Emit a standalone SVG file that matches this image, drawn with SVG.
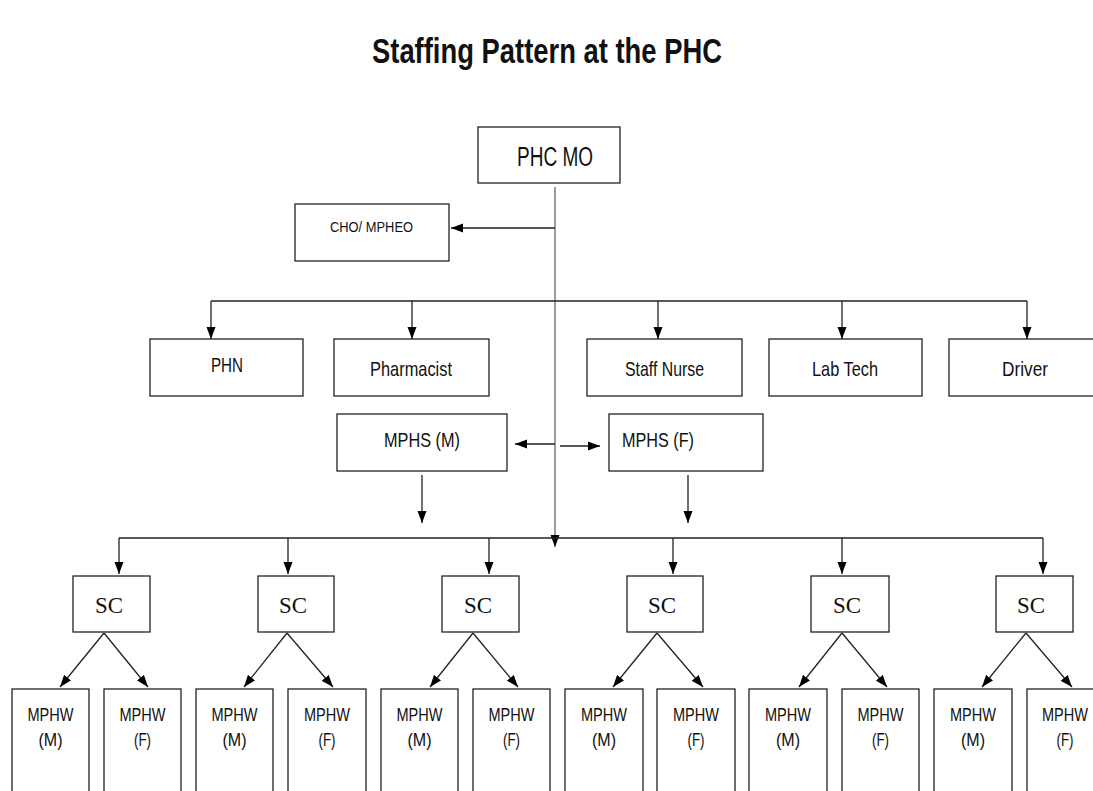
<svg xmlns="http://www.w3.org/2000/svg" width="1093" height="791" viewBox="0 0 1093 791">
<style>
.box{fill:#fff;stroke:#222;stroke-width:1.3}
.ln{fill:none;stroke:#222;stroke-width:1.3}
.vl{fill:none;stroke:#666;stroke-width:1.3}
.t{font-family:"Liberation Sans",Arial,sans-serif;fill:#111}
.sc{font-family:"Liberation Serif","Times New Roman",serif;font-size:24px;fill:#111;text-anchor:middle}
.r1{font-size:21px}
.mw{font-size:19px}
</style>
<defs>
<marker id="ah" markerUnits="userSpaceOnUse" markerWidth="12" markerHeight="10" refX="12" refY="5" orient="auto">
<path d="M0,0.5 L12,5 L0,9.5 Z" fill="#000"/>
</marker>
</defs>
<rect width="1093" height="791" fill="#fff"/>
<text class="t" x="372" y="63" font-size="35" font-weight="bold" textLength="350" lengthAdjust="spacingAndGlyphs">Staffing Pattern at the PHC</text>

<g id="connectors">
<path class="vl" d="M555,187 V547" marker-end="url(#ah)"/>
<path class="ln" d="M555,228 H451" marker-end="url(#ah)"/>
<path class="ln" d="M211,301 H1027"/>
<path class="ln" d="M211,301 V339" marker-end="url(#ah)"/>
<path class="ln" d="M412,301 V339" marker-end="url(#ah)"/>
<path class="ln" d="M658,301 V339" marker-end="url(#ah)"/>
<path class="ln" d="M842,301 V339" marker-end="url(#ah)"/>
<path class="ln" d="M1027,301 V339" marker-end="url(#ah)"/>
<path class="ln" d="M555,444 H515" marker-end="url(#ah)"/>
<path class="ln" d="M560,446 H600" marker-end="url(#ah)"/>
<path class="ln" d="M422,475 V523" marker-end="url(#ah)"/>
<path class="ln" d="M688,475 V523" marker-end="url(#ah)"/>
<path class="ln" d="M119,538 H1043"/>
<path class="ln" d="M119,538 V574" marker-end="url(#ah)"/>
<path class="ln" d="M288,538 V574" marker-end="url(#ah)"/>
<path class="ln" d="M489,538 V574" marker-end="url(#ah)"/>
<path class="ln" d="M673,538 V574" marker-end="url(#ah)"/>
<path class="ln" d="M842,538 V574" marker-end="url(#ah)"/>
<path class="ln" d="M1043,538 V574" marker-end="url(#ah)"/>
<path class="ln" d="M104,633 L60,687" marker-end="url(#ah)"/>
<path class="ln" d="M104,633 L148,687" marker-end="url(#ah)"/>
<path class="ln" d="M287,633 L244,687" marker-end="url(#ah)"/>
<path class="ln" d="M287,633 L333,687" marker-end="url(#ah)"/>
<path class="ln" d="M473,633 L430,687" marker-end="url(#ah)"/>
<path class="ln" d="M473,633 L518,687" marker-end="url(#ah)"/>
<path class="ln" d="M657,633 L613,687" marker-end="url(#ah)"/>
<path class="ln" d="M657,633 L703,687" marker-end="url(#ah)"/>
<path class="ln" d="M842,633 L799,687" marker-end="url(#ah)"/>
<path class="ln" d="M842,633 L887,687" marker-end="url(#ah)"/>
<path class="ln" d="M1026,633 L982,687" marker-end="url(#ah)"/>
<path class="ln" d="M1026,633 L1072,687" marker-end="url(#ah)"/>
</g>

<g id="phc-mo"><rect class="box" x="478" y="127" width="142" height="56"/><text class="t" x="517" y="166" font-size="27" textLength="76" lengthAdjust="spacingAndGlyphs">PHC MO</text></g>
<g id="cho"><rect class="box" x="295" y="204" width="154" height="57"/><text class="t" x="330" y="232" font-size="15" textLength="83" lengthAdjust="spacingAndGlyphs">CHO/ MPHEO</text></g>

<g id="phn"><rect class="box" x="150" y="339" width="153" height="57"/><text class="t r1" x="211" y="372" textLength="32" lengthAdjust="spacingAndGlyphs">PHN</text></g>
<g id="pharmacist"><rect class="box" x="334" y="339" width="155" height="57"/><text class="t r1" x="370" y="376" textLength="82" lengthAdjust="spacingAndGlyphs">Pharmacist</text></g>
<g id="staff-nurse"><rect class="box" x="587" y="339" width="155" height="57"/><text class="t r1" x="625" y="376" textLength="79" lengthAdjust="spacingAndGlyphs">Staff Nurse</text></g>
<g id="lab-tech"><rect class="box" x="769" y="339" width="153" height="57"/><text class="t r1" x="812" y="376" textLength="66" lengthAdjust="spacingAndGlyphs">Lab Tech</text></g>
<g id="driver"><rect class="box" x="949" y="339" width="160" height="57"/><text class="t r1" x="1002" y="376" textLength="46" lengthAdjust="spacingAndGlyphs">Driver</text></g>

<g id="mphs-m"><rect class="box" x="337" y="414" width="170" height="57"/><text class="t r1" x="384" y="447" textLength="76" lengthAdjust="spacingAndGlyphs">MPHS (M)</text></g>
<g id="mphs-f"><rect class="box" x="609" y="414" width="154" height="57"/><text class="t r1" x="622" y="447" textLength="72" lengthAdjust="spacingAndGlyphs">MPHS (F)</text></g>

<g id="sc1"><rect class="box" x="73" y="576" width="77" height="56"/><text class="sc" x="109" y="613" textLength="28" lengthAdjust="spacingAndGlyphs">SC</text></g>
<g id="sc2"><rect class="box" x="258" y="576" width="76" height="56"/><text class="sc" x="293" y="613" textLength="28" lengthAdjust="spacingAndGlyphs">SC</text></g>
<g id="sc3"><rect class="box" x="442" y="576" width="77" height="56"/><text class="sc" x="478" y="613" textLength="28" lengthAdjust="spacingAndGlyphs">SC</text></g>
<g id="sc4"><rect class="box" x="627" y="576" width="76" height="56"/><text class="sc" x="662" y="613" textLength="28" lengthAdjust="spacingAndGlyphs">SC</text></g>
<g id="sc5"><rect class="box" x="811" y="576" width="78" height="56"/><text class="sc" x="847" y="613" textLength="28" lengthAdjust="spacingAndGlyphs">SC</text></g>
<g id="sc6"><rect class="box" x="996" y="576" width="77" height="56"/><text class="sc" x="1031" y="613" textLength="28" lengthAdjust="spacingAndGlyphs">SC</text></g>

<g id="mphw-1m"><rect class="box" x="12" y="689" width="77" height="115"/><text class="t mw" x="50.5" y="721" text-anchor="middle" textLength="46" lengthAdjust="spacingAndGlyphs">MPHW</text><text class="t mw" x="50.5" y="746" text-anchor="middle" textLength="24" lengthAdjust="spacingAndGlyphs">(M)</text></g>
<g id="mphw-1f"><rect class="box" x="104" y="689" width="77" height="115"/><text class="t mw" x="142.5" y="721" text-anchor="middle" textLength="46" lengthAdjust="spacingAndGlyphs">MPHW</text><text class="t mw" x="142.5" y="746" text-anchor="middle" textLength="17" lengthAdjust="spacingAndGlyphs">(F)</text></g>
<g id="mphw-2m"><rect class="box" x="196" y="689" width="77" height="115"/><text class="t mw" x="234.5" y="721" text-anchor="middle" textLength="46" lengthAdjust="spacingAndGlyphs">MPHW</text><text class="t mw" x="234.5" y="746" text-anchor="middle" textLength="24" lengthAdjust="spacingAndGlyphs">(M)</text></g>
<g id="mphw-2f"><rect class="box" x="288" y="689" width="78" height="115"/><text class="t mw" x="327" y="721" text-anchor="middle" textLength="46" lengthAdjust="spacingAndGlyphs">MPHW</text><text class="t mw" x="327" y="746" text-anchor="middle" textLength="17" lengthAdjust="spacingAndGlyphs">(F)</text></g>
<g id="mphw-3m"><rect class="box" x="381" y="689" width="77" height="115"/><text class="t mw" x="419.5" y="721" text-anchor="middle" textLength="46" lengthAdjust="spacingAndGlyphs">MPHW</text><text class="t mw" x="419.5" y="746" text-anchor="middle" textLength="24" lengthAdjust="spacingAndGlyphs">(M)</text></g>
<g id="mphw-3f"><rect class="box" x="473" y="689" width="77" height="115"/><text class="t mw" x="511.5" y="721" text-anchor="middle" textLength="46" lengthAdjust="spacingAndGlyphs">MPHW</text><text class="t mw" x="511.5" y="746" text-anchor="middle" textLength="17" lengthAdjust="spacingAndGlyphs">(F)</text></g>
<g id="mphw-4m"><rect class="box" x="565" y="689" width="78" height="115"/><text class="t mw" x="604" y="721" text-anchor="middle" textLength="46" lengthAdjust="spacingAndGlyphs">MPHW</text><text class="t mw" x="604" y="746" text-anchor="middle" textLength="24" lengthAdjust="spacingAndGlyphs">(M)</text></g>
<g id="mphw-4f"><rect class="box" x="657" y="689" width="78" height="115"/><text class="t mw" x="696" y="721" text-anchor="middle" textLength="46" lengthAdjust="spacingAndGlyphs">MPHW</text><text class="t mw" x="696" y="746" text-anchor="middle" textLength="17" lengthAdjust="spacingAndGlyphs">(F)</text></g>
<g id="mphw-5m"><rect class="box" x="749" y="689" width="78" height="115"/><text class="t mw" x="788" y="721" text-anchor="middle" textLength="46" lengthAdjust="spacingAndGlyphs">MPHW</text><text class="t mw" x="788" y="746" text-anchor="middle" textLength="24" lengthAdjust="spacingAndGlyphs">(M)</text></g>
<g id="mphw-5f"><rect class="box" x="842" y="689" width="77" height="115"/><text class="t mw" x="880.5" y="721" text-anchor="middle" textLength="46" lengthAdjust="spacingAndGlyphs">MPHW</text><text class="t mw" x="880.5" y="746" text-anchor="middle" textLength="17" lengthAdjust="spacingAndGlyphs">(F)</text></g>
<g id="mphw-6m"><rect class="box" x="934" y="689" width="78" height="115"/><text class="t mw" x="973" y="721" text-anchor="middle" textLength="46" lengthAdjust="spacingAndGlyphs">MPHW</text><text class="t mw" x="973" y="746" text-anchor="middle" textLength="24" lengthAdjust="spacingAndGlyphs">(M)</text></g>
<g id="mphw-6f"><rect class="box" x="1027" y="689" width="80" height="115"/><text class="t mw" x="1065" y="721" text-anchor="middle" textLength="46" lengthAdjust="spacingAndGlyphs">MPHW</text><text class="t mw" x="1065" y="746" text-anchor="middle" textLength="17" lengthAdjust="spacingAndGlyphs">(F)</text></g>
</svg>
